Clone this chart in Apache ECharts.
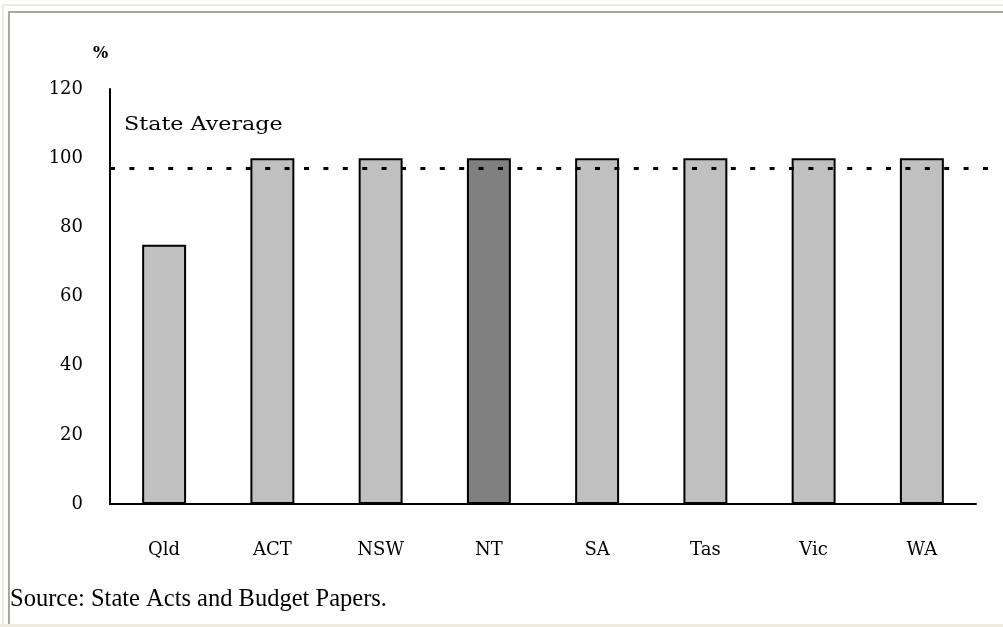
<!DOCTYPE html>
<html>
<head>
<meta charset="utf-8">
<script src="https://cdn.jsdelivr.net/npm/echarts@6/dist/echarts.min.js"></script>
<style>
  html, body { margin: 0; padding: 0; background: #ffffff; }
  #chart { width: 1003px; height: 627px; }
</style>
</head>
<body>
<div id="chart"></div>
<script>
// Share of funding by jurisdiction, %
const states = ['Qld', 'ACT', 'NSW', 'NT', 'SA', 'Tas', 'Vic', 'WA'];
const shares = [75, 100, 100, 100, 100, 100, 100, 100];
const highlighted = 'NT';
const stateAverage = 97;
const yTicks = [0, 20, 40, 60, 80, 100, 120];

const labelFont = 'DejaVu Serif';

const barData = states.map((s, i) => ({
  value: shares[i],
  itemStyle: { color: s === highlighted ? '#808080' : '#c0c0c0' }
}));

const chart = echarts.init(document.getElementById('chart'), null, { renderer: 'canvas' });

chart.setOption({
  backgroundColor: '#ffffff',
  animation: false,
  grid: [
    { left: 110, right: 27, top: 89, bottom: 123 },
    { left: 110, right: 15, top: 89, bottom: 123 }
  ],
  xAxis: [
    {
      type: 'category',
      gridIndex: 0,
      data: states,
      axisLine: { lineStyle: { color: '#000', width: 2 } },
      axisTick: { show: false },
      axisLabel: { color: '#000', fontFamily: labelFont, fontSize: 18, margin: 37 }
    },
    { type: 'value', gridIndex: 1, min: 0, max: 1, show: false }
  ],
  yAxis: [
    {
      type: 'value',
      gridIndex: 0,
      min: yTicks[0],
      max: yTicks[yTicks.length - 1],
      interval: yTicks[1] - yTicks[0],
      splitLine: { show: false },
      axisLine: { show: true, lineStyle: { color: '#000', width: 2 } },
      axisTick: { show: false },
      axisLabel: { color: '#000', fontFamily: labelFont, fontSize: 18, margin: 27, padding: [5, 0, 0, 0] }
    },
    {
      type: 'value', gridIndex: 1,
      min: yTicks[0], max: yTicks[yTicks.length - 1],
      show: false
    }
  ],
  series: [
    {
      type: 'bar',
      xAxisIndex: 0,
      yAxisIndex: 0,
      data: barData,
      barWidth: '40.6%',
      itemStyle: { borderColor: '#000', borderWidth: 2 }
    },
    {
      type: 'line',
      xAxisIndex: 1,
      yAxisIndex: 1,
      data: [[0, stateAverage], [1, stateAverage]],
      symbol: 'none',
      z: 5,
      lineStyle: { color: '#000', width: 3, type: [5, 14.4], cap: 'butt' }
    }
  ],
  graphic: [
    // window frame
    { type: 'rect', shape: { x: 2, y: 4, width: 1001, height: 2 }, style: { fill: '#ecebdc' }, silent: true },
    { type: 'rect', shape: { x: 2, y: 4, width: 2, height: 623 }, style: { fill: '#ecebdc' }, silent: true },
    { type: 'rect', shape: { x: 0, y: 624, width: 1003, height: 3 }, style: { fill: '#ecebdc' }, silent: true },
    { type: 'rect', shape: { x: 8, y: 11, width: 995, height: 2 }, style: { fill: '#a8a898' }, silent: true },
    { type: 'rect', shape: { x: 8, y: 11, width: 2, height: 613 }, style: { fill: '#a8a898' }, silent: true },
    // axis unit
    { type: 'text', x: 93, y: 46, style: { text: '%', fill: '#000', font: 'bold 16px ' + labelFont } },
    // reference line caption
    { type: 'text', x: 124, y: 116, scaleX: 1.17, style: { text: 'State Average', fill: '#000', font: '19px ' + labelFont } },
    // source note
    { type: 'text', x: 10, y: 587, style: { text: 'Source: State Acts and Budget Papers.', fill: '#000', font: '24.5px "Liberation Serif"' } }
  ]
});
</script>
</body>
</html>
